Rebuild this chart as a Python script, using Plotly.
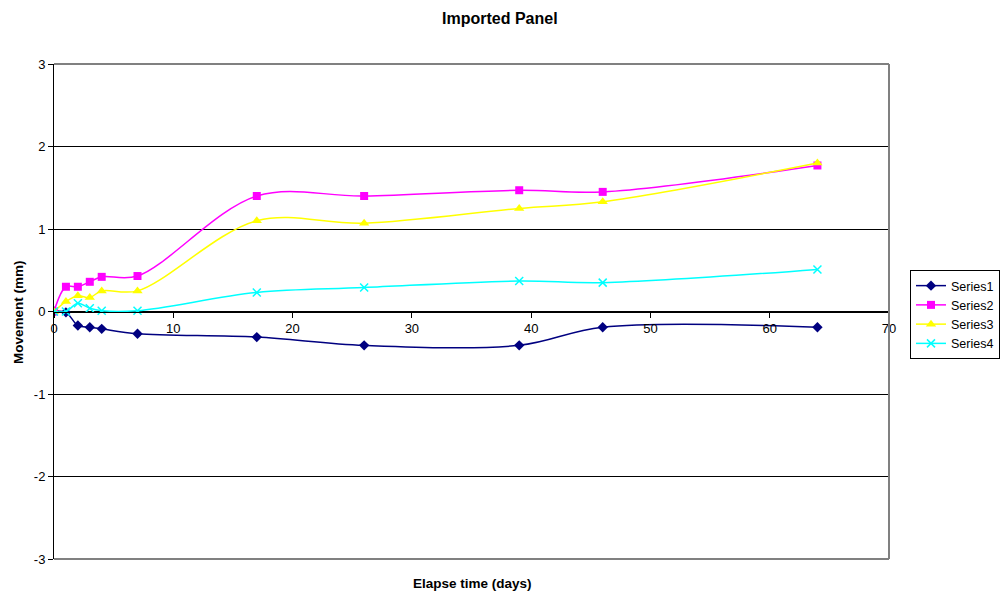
import plotly.graph_objects as go

# Elapsed time of each reading (days)
days = [0, 1, 2, 3, 4, 7, 17, 26, 39, 46, 64]

# Movement readings (mm)
series1 = [0, -0.01, -0.17, -0.19, -0.21, -0.27, -0.31, -0.41, -0.41, -0.19, -0.19]
series2 = [0, 0.30, 0.30, 0.36, 0.42, 0.43, 1.40, 1.40, 1.47, 1.45, 1.77]
series3 = [0, 0.12, 0.19, 0.17, 0.25, 0.25, 1.10, 1.07, 1.25, 1.33, 1.80]
series4 = [0, 0.00, 0.10, 0.04, 0.01, 0.01, 0.23, 0.29, 0.37, 0.35, 0.51]

names = ["Series1", "Series2", "Series3", "Series4"]
x_ticks = [0, 10, 20, 30, 40, 50, 60, 70]
y_ticks = [-3, -2, -1, 0, 1, 2, 3]

FONT = "Liberation Sans, Arial, sans-serif"

W, H = 1001, 596
ML, MR, MT, MB = 54, 112, 64, 37
PW, PH = W - ML - MR, H - MT - MB


def px_to_paper_x(px):
    return (px - ML) / PW


def px_to_paper_y(py):
    return (H - MB - py) / PH


styles = [
    dict(color="#000080", symbol="diamond", size=8, mline=dict(width=0)),
    dict(color="#FF00FF", symbol="square", size=8, mline=dict(width=0)),
    dict(color="#FFFF00", symbol="triangle-up", size=9, mline=dict(width=0)),
    dict(color="#00FFFF", symbol="x-thin", size=8, mline=dict(width=1.5, color="#00FFFF")),
]

fig = go.Figure()
for name, vals, st in zip(names, [series1, series2, series3, series4], styles):
    fig.add_trace(go.Scatter(
        x=days, y=vals, name=name, mode="lines+markers",
        line=dict(color=st["color"], width=1.5, shape="spline", smoothing=1),
        marker=dict(color=st["color"], symbol=st["symbol"], size=st["size"],
                    line=st["mline"]),
    ))

fig.update_layout(
    width=W, height=H,
    margin=dict(l=ML, r=MR, t=MT, b=MB),
    paper_bgcolor="white", plot_bgcolor="white",
    font=dict(family=FONT, size=13, color="black"),
    showlegend=True,
    legend=dict(
        xref="container", yref="container",
        x=910 / W, y=1 - 270 / H, xanchor="left", yanchor="top",
        bordercolor="black", borderwidth=1, bgcolor="white",
        font=dict(family=FONT, size=12.5), tracegroupgap=0,
        itemwidth=30,
    ),
    xaxis=dict(
        range=[0, 70], tickvals=x_ticks, ticktext=[str(v) for v in x_ticks],
        anchor="free", position=0.5,
        showline=True, linecolor="black", linewidth=1,
        ticks="outside", ticklen=5, tickcolor="black",
        showgrid=False, zeroline=False,
        tickfont=dict(family=FONT, size=13),
    ),
    yaxis=dict(
        range=[-3, 3], tickvals=y_ticks, ticktext=[str(v) for v in y_ticks],
        showline=True, linecolor="black", linewidth=1,
        ticks="outside", ticklen=5, tickcolor="black",
        showgrid=True, gridcolor="black", gridwidth=1, zeroline=False,
        tickfont=dict(family=FONT, size=13),
    ),
    shapes=[
        # grey frame around the plotting area
        dict(type="line", xref="x domain", yref="y domain", x0=0, x1=1, y0=1, y1=1,
             line=dict(color="#808080", width=2), layer="above"),
        dict(type="line", xref="x domain", yref="y domain", x0=0, x1=1, y0=0, y1=0,
             line=dict(color="#808080", width=2), layer="above"),
        dict(type="line", xref="x domain", yref="y domain", x0=1, x1=1, y0=0, y1=1,
             line=dict(color="#808080", width=2), layer="above"),
    ],
    annotations=[
        dict(text="<b>Imported Panel</b>", xref="paper", yref="paper",
             x=px_to_paper_x(500), y=px_to_paper_y(18),
             xanchor="center", yanchor="middle",
             showarrow=False, font=dict(family=FONT, size=16)),
        dict(text="<b>Movement (mm)</b>", xref="paper", yref="paper",
             x=px_to_paper_x(18), y=px_to_paper_y(312), xanchor="center", yanchor="middle",
             textangle=-90, showarrow=False, font=dict(family=FONT, size=13.5)),
        dict(text="<b>Elapse time (days)</b>", xref="paper", yref="paper",
             x=px_to_paper_x(472), y=px_to_paper_y(583),
             xanchor="center", yanchor="middle",
             showarrow=False, font=dict(family=FONT, size=13.5)),
    ],
)

fig.write_html("out.html")
